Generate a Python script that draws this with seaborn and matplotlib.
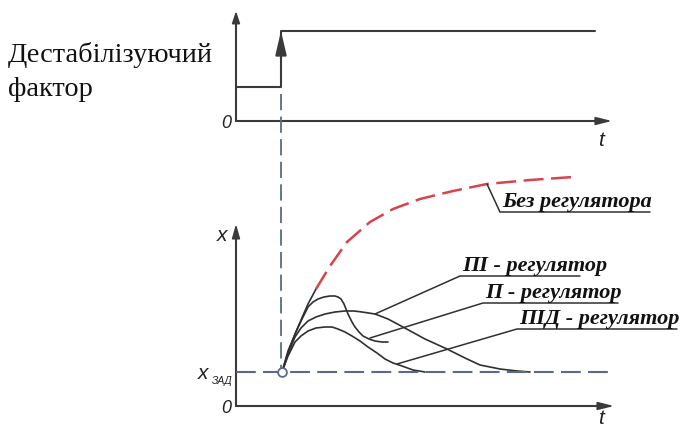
import matplotlib
matplotlib.use("Agg")
import matplotlib.pyplot as plt
import seaborn as sns
import pandas as pd

sns.set_theme(style="white")
plt.rcParams['font.family'] = ['Liberation Serif', 'DejaVu Serif']

# ---- data (pixel-like schematic units) ----
# step disturbance
step_t = [236, 281, 281, 595]
step_y = [88, 88, 32, 32]

# common initial rise (black)
rise_t = [282, 288, 298, 308, 316]
rise_y = [373, 352, 328, 305, 290]
# response without regulator (red dashed)
noreg_t = [316, 330, 347, 370, 393, 420, 453, 487, 530, 573]
noreg_y = [290, 267, 243, 223, 210, 200, 192, 185, 181, 178]

c1_t = [282, 288, 295, 302, 308, 313, 318, 324, 330, 335, 338, 341, 344, 348,
        352, 355, 359, 363, 369, 375, 382, 388]
c1_y = [373, 354, 335, 320, 308, 303, 300, 298, 297, 297, 298, 300, 305, 315,
        323, 328, 333, 337, 340, 342, 343, 343]

c2_t = [282, 288, 295, 301, 308, 316, 325, 335, 345, 354, 362, 375, 388, 403,
        425, 447, 465, 480, 500, 517, 530]
c2_y = [373, 355, 338, 329, 322, 318, 315, 313, 312, 312, 313, 315, 320, 328,
        340, 350, 359, 366, 370, 372, 373]

c3_t = [282, 288, 295, 301, 308, 316, 325, 332, 338, 345, 352, 360, 368, 377,
        385, 393, 402, 413, 425]
c3_y = [373, 357, 343, 337, 332, 329, 328, 328, 330, 333, 337, 342, 348, 354,
        360, 364, 367, 371, 373]

labels = ["Без регулятора", "ПІ - регулятор", "П - регулятор", "ПІД - регулятор"]
leader_start = [(487, 185), (375, 315), (370, 339), (397, 365)]
leader_elbow = [(500, 213), (460, 277), (483, 304), (517, 330)]
leader_end = [(650, 213), (580, 277), (618, 304), (677, 330)]

setpoint_y = 373
t0 = 282

AX = "#3a3a3a"
BLUE = "#5a6a8e"
RED = "#d9434e"
CURVE = "#303030"

fig = plt.figure(figsize=(6.8, 4.31), dpi=100)
ax = fig.add_axes([0, 0, 1, 1])


def arrow(x0, y0, x1, y1, hw=4, hl=8, lw=1.5):
    ax.annotate("", xy=(x1, y1), xytext=(x0, y0),
                arrowprops=dict(arrowstyle=f"-|>,head_width={hw/10:.2f},head_length={hl/10:.2f}",
                                color=AX, lw=lw, shrinkA=0, shrinkB=0))


# curves via seaborn
df_rise = pd.DataFrame({"t": rise_t, "x": rise_y})
sns.lineplot(data=df_rise, x="t", y="x", ax=ax, color=CURVE, lw=1.2, sort=False)
df_nr = pd.DataFrame({"t": noreg_t, "x": noreg_y})
sns.lineplot(data=df_nr, x="t", y="x", ax=ax, color=RED, lw=1.8, sort=False)
ax.lines[-1].set_dashes((8, 3))
for ct, cy in [(c1_t, c1_y), (c2_t, c2_y), (c3_t, c3_y)]:
    d = pd.DataFrame({"t": ct, "x": cy})
    sns.lineplot(data=d, x="t", y="x", ax=ax, color=CURVE, lw=1.2, sort=False)

ax.set_xlim(0, 680)
ax.set_ylim(431, 0)
ax.axis("off")

# top panel axes
ax.plot([236, 236], [122, 16], color=AX, lw=1.5)
arrow(236, 30, 236, 12, hw=2, hl=6, lw=1.2)
ax.plot([236, 604], [122, 122], color=AX, lw=1.5)
arrow(590, 122, 612, 122, hw=2, hl=8, lw=1.2)
# step
ax.plot(step_t, step_y, color=AX, lw=1.5)
arrow(281, 60, 281, 32, hw=2.8, hl=12, lw=1.5)

# vertical dashed marker
ax.plot([281, 281], [95, 373], color=BLUE, lw=1.3, dashes=(9, 3.5))

# bottom panel axes
ax.plot([236, 236], [407, 232], color=AX, lw=1.5)
arrow(236, 245, 236, 225, hw=2, hl=7, lw=1.2)
ax.plot([236, 604], [407, 407], color=AX, lw=1.5)
arrow(590, 407, 614, 407, hw=2, hl=8, lw=1.2)

# setpoint dashed line
ax.plot([236, 612], [setpoint_y, setpoint_y], color=BLUE, lw=1.5, dashes=(9.5, 3.5))

# origin circle
ax.scatter([t0], [setpoint_y], s=40, facecolor="white", edgecolor=BLUE, lw=1.3, zorder=5)

# leaders and labels
for lab, s, e, f in zip(labels, leader_start, leader_elbow, leader_end):
    ax.plot([s[0], e[0], f[0]], [s[1], e[1], f[1]], color=CURVE, lw=1.1)
    ax.text(e[0] + 2, e[1] - 6, lab, fontsize=16, fontweight="bold", fontstyle="italic",
            ha="left", va="baseline", color="#111111")

# axis labels
sans = ['Liberation Sans', 'DejaVu Sans']
ax.text(231, 124, "0", family=sans, fontstyle="italic", fontsize=13, ha="right", va="center", color="#222")
ax.text(601, 141, "t", family=sans, fontstyle="italic", fontsize=15, ha="center", va="center", color="#222")
ax.text(231, 409, "0", family=sans, fontstyle="italic", fontsize=13, ha="right", va="center", color="#222")
ax.text(601, 419, "t", family=sans, fontstyle="italic", fontsize=15, ha="center", va="center", color="#222")
ax.text(222, 236, "x", family=sans, fontstyle="italic", fontsize=15, ha="center", va="center", color="#222")
ax.text(203, 374, "x", family=sans, fontstyle="italic", fontsize=15, ha="center", va="center", color="#222")
ax.text(212, 381, "ЗАД", family=sans, fontstyle="italic", fontsize=7.5, ha="left", va="center", color="#222")

# left title
ax.text(8, 55, "Дестабілізуючий", fontsize=20.4, ha="left", va="center", color="#111")
ax.text(8, 89, "фактор", fontsize=20.4, ha="left", va="center", color="#111")

fig.savefig("out.png", dpi=100)
